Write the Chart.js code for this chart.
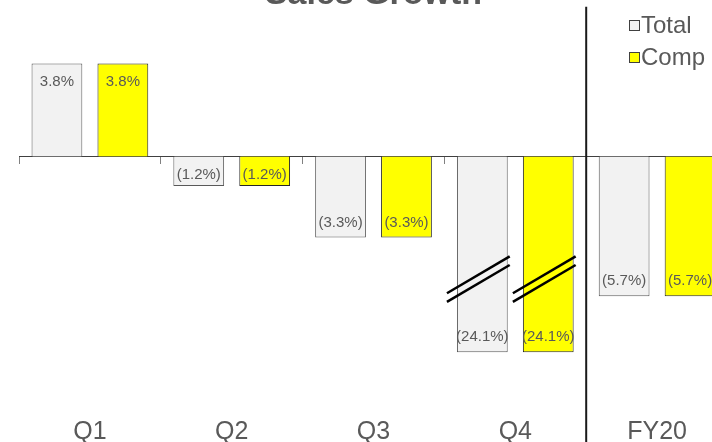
<!DOCTYPE html>
<html>
<head>
<meta charset="utf-8">
<script src="https://cdn.jsdelivr.net/npm/chart.js@4/dist/chart.umd.min.js"></script>
<style>
  html, body { margin: 0; padding: 0; background: #fff; overflow: hidden; }
  #wrap { position: absolute; left: 0; top: -40px; }
</style>
</head>
<body>
<div id="wrap"><canvas id="chart" width="728" height="500"></canvas></div>
<script>
// データ
const categories = ['Q1', 'Q2', 'Q3', 'Q4', 'FY20']
const totalGrowth = [3.8, -1.2, -3.3, -24.1, -5.7]
const compGrowth = [3.8, -1.2, -3.3, -24.1, -5.7]
const seriesNames = ['Total', 'Comp']

// 軸の範囲（省略部分を圧縮した単位）
const Y_MIN = -10.1
const Y_MAX = 5.79
const BREAK_AT = 6.2      // ここより下は圧縮
const BREAK_RATIO = 0.1
const BREAK_MARK_AT = -5  // 省略記号の位置

const GRAY = '#595959'
const FONT = "'Liberation Sans', Arial, sans-serif"

// 省略（波線）付きの線形スケール
class BrokenLinearScale extends Chart.LinearScale {
  squash(v) {
    if (v < -BREAK_AT) return -BREAK_AT - (-v - BREAK_AT) * BREAK_RATIO
    return v
  }
  unsquash(v) {
    if (v < -BREAK_AT) return -BREAK_AT - (-v - BREAK_AT) / BREAK_RATIO
    return v
  }
  getPixelForValue(v) {
    return super.getPixelForValue(this.squash(v))
  }
  getValueForPixel(p) {
    return this.unsquash(super.getValueForPixel(p))
  }
}
BrokenLinearScale.id = 'brokenLinear'
BrokenLinearScale.defaults = Chart.LinearScale.defaults
Chart.register(BrokenLinearScale)

function fmt(v) {
  return v < 0 ? '(' + Math.abs(v).toFixed(1) + '%)' : v.toFixed(1) + '%'
}

const barLabels = {
  id: 'barLabels',
  afterDatasetsDraw(chart) {
    const ctx = chart.ctx
    const zero = chart.scales.y.getPixelForValue(0)
    ctx.save()
    ctx.font = '15px ' + FONT
    ctx.fillStyle = GRAY
    ctx.textAlign = 'center'
    ctx.textBaseline = 'middle'
    chart.data.datasets.forEach((ds, i) => {
      chart.getDatasetMeta(i).data.forEach((bar, j) => {
        const v = ds.data[j]
        let y
        if (v >= 0) y = bar.y + 18
        else y = Math.max(bar.y - 15, zero + 18)
        ctx.fillText(fmt(v), bar.x, y)
      })
    })
    ctx.restore()
  }
}

const breakMarks = {
  id: 'breakMarks',
  afterDatasetsDraw(chart) {
    const ctx = chart.ctx
    const yc = chart.scales.y.getPixelForValue(BREAK_MARK_AT)
    ctx.save()
    ctx.strokeStyle = '#000'
    ctx.lineWidth = 2.5
    chart.data.datasets.forEach((ds, i) => {
      chart.getDatasetMeta(i).data.forEach((bar, j) => {
        if (ds.data[j] >= -BREAK_AT) return
        const x1 = bar.x - bar.width / 2 - 10
        const x2 = bar.x + bar.width / 2 + 2
        const xc = (x1 + x2) / 2
        const slope = -0.587
        ;[-4.3, 4.3].forEach(off => {
          ctx.beginPath()
          ctx.moveTo(x1, yc + off + (x1 - xc) * slope)
          ctx.lineTo(x2, yc + off + (x2 - xc) * slope)
          ctx.stroke()
        })
      })
    })
    ctx.restore()
  }
}

const divider = {
  id: 'divider',
  afterDraw(chart) {
    const x = chart.scales.x
    const px = (x.getPixelForValue(3) + x.getPixelForValue(4)) / 2
    const ctx = chart.ctx
    ctx.save()
    ctx.strokeStyle = '#1a1a1a'
    ctx.lineWidth = 2
    ctx.beginPath()
    ctx.moveTo(px, chart.chartArea.top - 8)
    ctx.lineTo(px, chart.height)
    ctx.stroke()
    ctx.restore()
  }
}

const sideLegend = {
  id: 'sideLegend',
  afterDraw(chart) {
    const ctx = chart.ctx
    ctx.save()
    ctx.font = '24px ' + FONT
    ctx.textBaseline = 'middle'
    chart.data.datasets.forEach((ds, i) => {
      const sx = 629, sy = 60 + i * 32
      ctx.fillStyle = ds.backgroundColor
      ctx.fillRect(sx, sy, 11, 11)
      ctx.strokeStyle = '#404040'
      ctx.lineWidth = 1
      ctx.strokeRect(sx + 0.5, sy + 0.5, 10, 10)
      ctx.fillStyle = GRAY
      ctx.fillText(ds.label, sx + 12, sy + 6)
    })
    ctx.restore()
  }
}

new Chart(document.getElementById('chart'), {
  type: 'bar',
  data: {
    labels: categories,
    datasets: [
      {
        label: seriesNames[0],
        data: totalGrowth,
        backgroundColor: '#f2f2f2',
        borderColor: '#595959',
        borderWidth: 1,
        categoryPercentage: 0.93,
        barPercentage: 0.77
      },
      {
        label: seriesNames[1],
        data: compGrowth,
        backgroundColor: '#ffff00',
        borderColor: '#262626',
        borderWidth: 1,
        categoryPercentage: 0.93,
        barPercentage: 0.77
      }
    ]
  },
  options: {
    responsive: false,
    animation: false,
    layout: { padding: { left: 19, right: 0, top: 0, bottom: 0 } },
    plugins: {
      legend: { display: false },
      tooltip: { enabled: false },
      title: {
        display: true,
        text: 'Sales Growth',
        color: GRAY,
        font: { family: FONT, size: 34, weight: 'bold' },
        padding: { top: 14, bottom: 0 }
      }
    },
    scales: {
      x: {
        position: 'bottom',
        grid: { display: false, drawTicks: false },
        border: { display: false },
        ticks: { color: GRAY, font: { family: FONT, size: 25 }, padding: 13 }
      },
      xz: {
        type: 'category',
        position: { y: 0 },
        grid: { offset: true, drawOnChartArea: false, drawTicks: true, tickLength: 7, color: '#808080' },
        border: { display: true, color: '#404040', width: 1 },
        ticks: { display: false }
      },
      y: {
        type: 'brokenLinear',
        display: false,
        min: Y_MIN,
        max: Y_MAX
      }
    }
  },
  plugins: [barLabels, breakMarks, divider, sideLegend]
})
</script>
</body>
</html>
